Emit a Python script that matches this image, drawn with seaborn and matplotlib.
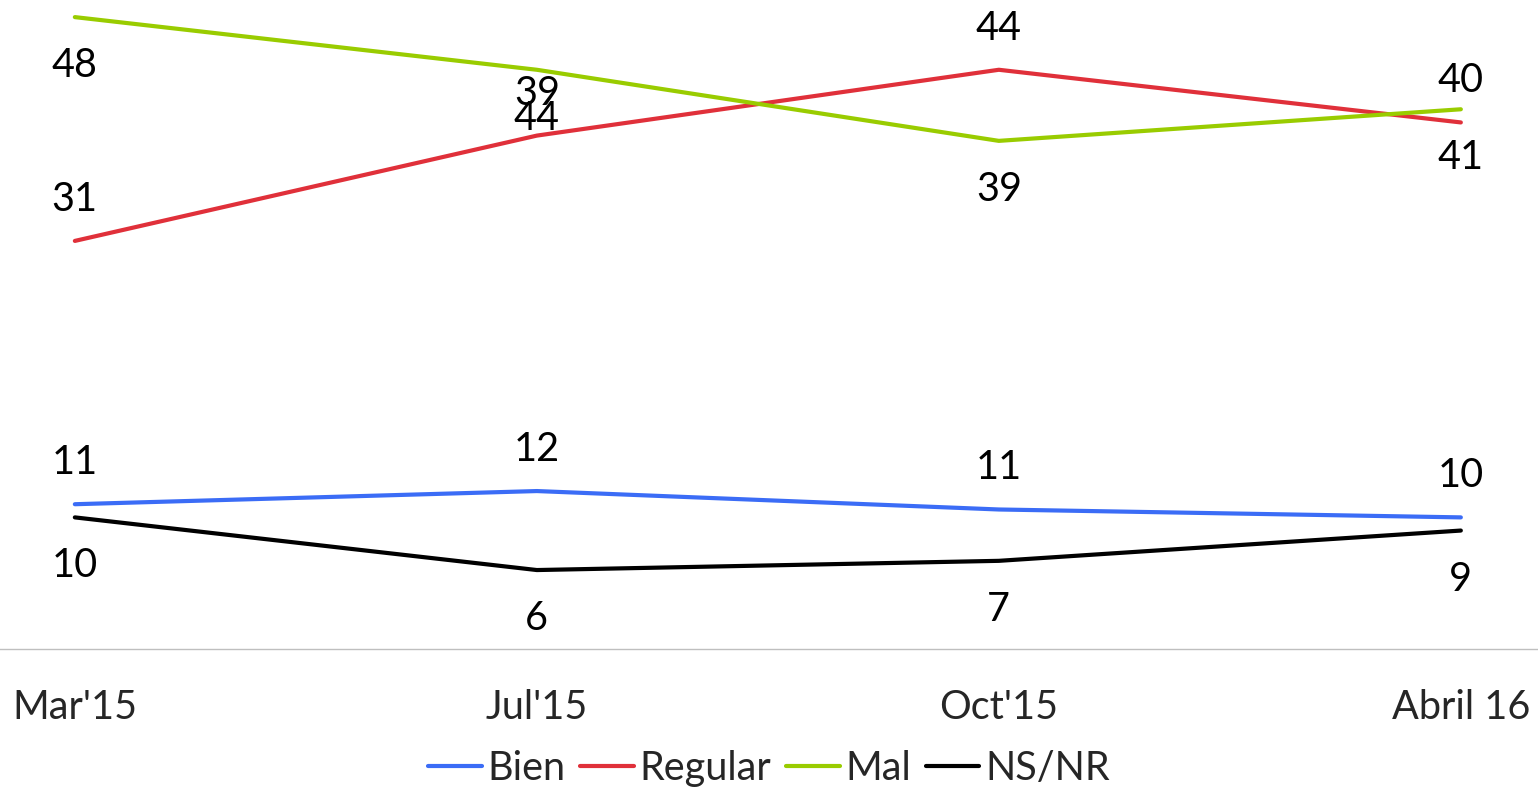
import pandas as pd
import numpy as np
import matplotlib
matplotlib.use('Agg')
import matplotlib.pyplot as plt
import seaborn as sns

# data
periods = ["Mar'15", "Jul'15", "Oct'15", "Abril 16"]
bien = [11, 12, 10.6, 10]
regular = [31, 39, 44, 40]
mal = [48, 44, 38.6, 41]
nsnr = [10, 6, 6.7, 9]

series_names = ["Bien", "Regular", "Mal", "NS/NR"]
colors = ["#3B6CF6", "#E0303A", "#99CC00", "#000000"]
# label above (+1) or below (-1) the point
label_side = [1, 1, -1, -1]

df = pd.DataFrame({
    "x": list(range(len(periods))) * 4,
    "valor": bien + regular + mal + nsnr,
    "serie": np.repeat(series_names, len(periods)),
})

sns.set_style("white")
plt.rcParams['font.family'] = ['Lato', 'DejaVu Sans']

fig = plt.figure(figsize=(15.38, 7.87), dpi=100)
ax = fig.add_axes([0, 0.1753, 1, 0.8247])

sns.lineplot(data=df, x="x", y="valor", hue="serie", palette=colors,
             hue_order=series_names, linewidth=3, ax=ax, legend=False,
             clip_on=False, sort=False)

fs = 28.5
for name, side in zip(series_names, label_side):
    sub = df[df["serie"] == name]
    for xv, yv in zip(sub["x"], sub["valor"]):
        off = 30 if side > 0 else -35
        ax.annotate(str(int(round(yv))), (xv, yv), xytext=(0, off),
                    textcoords="offset points", ha="center", va="center",
                    fontsize=fs, color="black")

ax.set_xlim(-0.162, 3.167)
ax.set_ylim(0, 49.3)
ax.set_xticks(range(len(periods)))
ax.set_xticklabels(periods, fontsize=fs)
ax.tick_params(axis="x", length=0, pad=29)
ax.set_yticks([])
ax.set_xlabel("")
ax.set_ylabel("")
for s in ["top", "left", "right"]:
    ax.spines[s].set_visible(False)
ax.spines["bottom"].set_color("#BFBFBF")
ax.spines["bottom"].set_linewidth(1)

handles = [plt.Line2D([], [], color=c, linewidth=3) for c in colors]
fig.legend(handles, series_names, loc="center", bbox_to_anchor=(0.5, 0.024),
           ncol=4, frameon=False, fontsize=fs, handlelength=1.35,
           handletextpad=0.15, columnspacing=0.37, borderpad=0)

fig.savefig("out.png", dpi=100)
